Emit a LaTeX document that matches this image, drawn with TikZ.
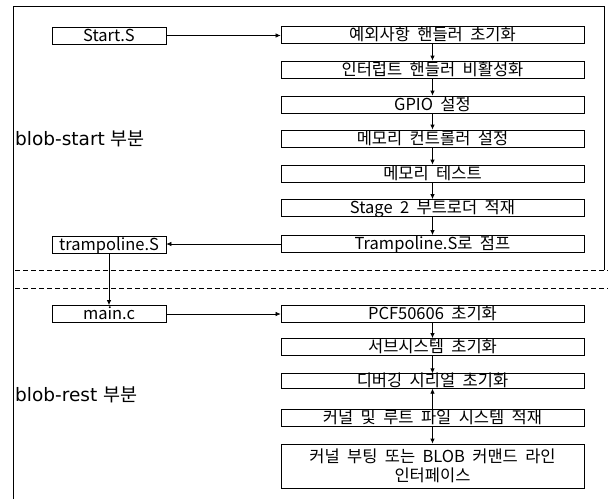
\documentclass[tikz,border=0pt]{standalone}
\usepackage{fontspec}
\setmainfont[WordSpace=2]{Noto Sans CJK KR}
\newfontfamily\krlabel{Noto Sans CJK KR}
\newfontfamily\dejavu{DejaVu Sans}
\usetikzlibrary{arrows.meta}
\tikzset{
  box/.style={draw, line width=0.8pt, minimum height=17pt, inner sep=0pt,
    text height=13pt, text depth=1.5pt, font=\fontsize{16.5}{18}\selectfont},
  rbox/.style={box, minimum width=303pt},
  lbox/.style={box, minimum width=114pt},
  arr/.style={-{Latex[length=5pt,width=4.5pt]}, line width=0.8pt},
  harr/.style={-{Latex[length=5pt,width=4.5pt]}, line width=0.6pt},
  frame/.style={line width=0.8pt},
  sep/.style={dash pattern=on 5pt off 3pt, line width=0.8pt},
  lab/.style={anchor=west, inner sep=0pt, font=\fontsize{18.5}{21}\selectfont}
}
\begin{document}
\begin{tikzpicture}[x=1pt, y=-1pt]
\useasboundingbox (0,0) rectangle (608,499);
% frame
\coordinate (fl) at (13,6);
\coordinate (fr) at (604,6);
\coordinate (fb) at (13,499);
\coordinate (frb) at (604,270);
\draw[frame] (fb) -- (fl) -- (fr) -- (frb);
% separators
\coordinate (d1a) at (15,270);
\coordinate (d1b) at (608,270);
\coordinate (d2a) at (15,288);
\coordinate (d2b) at (608,288);
\draw[sep] (d1a) -- (d1b);
\draw[sep] (d2a) -- (d2b);
% labels
\node[lab] (lab1) at (15,139) {\dejavu blob-start \krlabel 부분};
\node[lab] (lab2) at (15,395) {\dejavu blob-rest \krlabel 부분};
% left boxes
\node[lbox] (l1) at (109,35.5) {Start.S};
\node[lbox] (l2) at (109,244.5) {trampoline.S};
\node[lbox] (l3) at (109,314) {main.c};
% right boxes
\node[rbox] (r1) at (432.5,34.5) {예외사항 핸들러 초기화};
\node[rbox] (r2) at (432.5,69.5) {인터럽트 핸들러 비활성화};
\node[rbox] (r3) at (432.5,104.5) {GPIO 설정};
\node[rbox] (r4) at (432.5,138.5) {메모리 컨트롤러 설정};
\node[rbox] (r5) at (432.5,173.5) {메모리 테스트};
\node[rbox] (r6) at (432.5,208) {Stage 2 부트로더 적재};
\node[rbox] (r7) at (432.5,244) {Trampoline.S로 점프};
\node[rbox] (r8) at (432.5,314) {PCF50606 초기화};
\node[rbox] (r9) at (432.5,347) {서브시스템 초기화};
\node[rbox, minimum height=14pt] (r10) at (432.5,381) {디버깅 시리얼 초기화};
\node[rbox] (r11) at (432.5,417.5) {커널 및 루트 파일 시스템 적재};
\node[draw, line width=0.8pt, minimum width=303pt, minimum height=44pt, inner sep=0pt,
  align=center, font=\fontsize{16.5}{19}\selectfont] (r12) at (432.5,466)
  {커널 부팅 또는 BLOB 커맨드 라인\\인터페이스};
% connectors
\draw[harr] (l1.east) -- (l1.east -| r1.west);
\draw[arr] (r1) -- (r2);
\draw[arr] (r2) -- (r3);
\draw[arr] (r3) -- (r4);
\draw[arr] (r4) -- (r5);
\draw[arr] (r5) -- (r6);
\draw[arr] (r6) -- (r7);
\draw[harr] (r7.west) -- (r7.west -| l2.east);
\draw[arr] (l2) -- (l3);
\draw[harr] (l3) -- (r8);
\draw[arr] (r8) -- (r9);
\draw[arr] (r9) -- (r10);
\draw[arr] (r11) -- (r10);
\draw[arr] (r11) -- (r12);
\end{tikzpicture}
\end{document}
